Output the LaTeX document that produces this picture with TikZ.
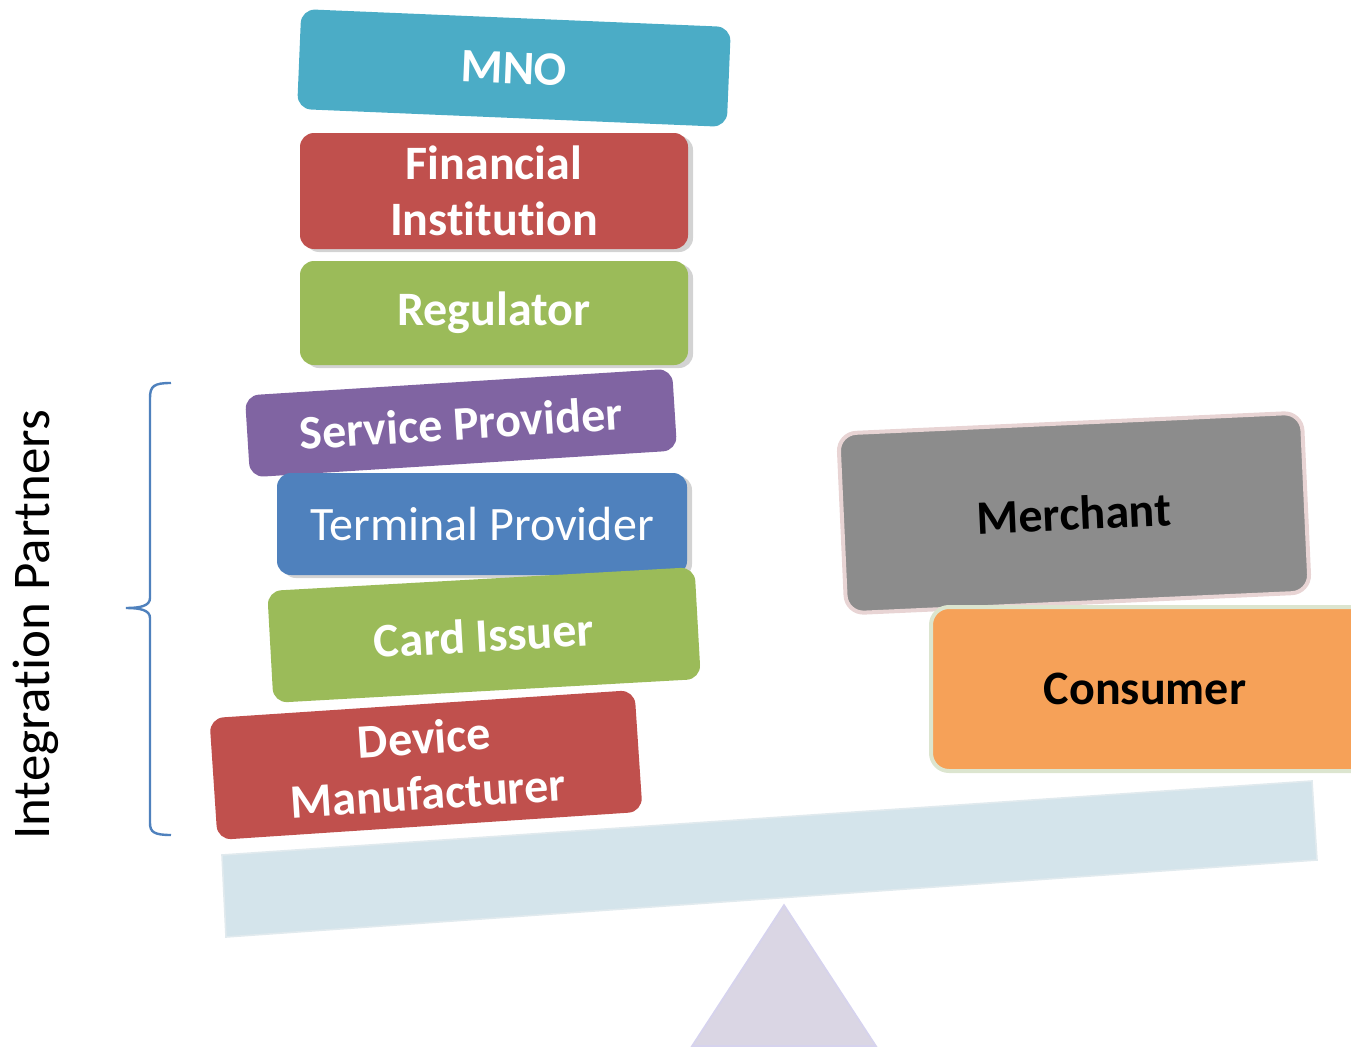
\documentclass[tikz,border=0pt]{standalone}
\usepackage{fontspec}
\setmainfont{Carlito}[Ligatures=NoCommon]
\usetikzlibrary{shadows}

\definecolor{mnoblue}{HTML}{4BACC6}
\definecolor{finred}{HTML}{C0504D}
\definecolor{reggreen}{HTML}{9BBB59}
\definecolor{svcpurple}{HTML}{8064A2}
\definecolor{termblue}{HTML}{4F81BD}
\definecolor{merchgray}{HTML}{8C8C8C}
\definecolor{merchrim}{HTML}{E8D4D4}
\definecolor{consorange}{HTML}{F6A158}
\definecolor{consrim}{HTML}{DCE5CF}
\definecolor{beamblue}{HTML}{D4E4EB}
\definecolor{pivotlilac}{HTML}{DAD6E4}

\begin{document}
\begin{tikzpicture}[x=0.5pt, y=-0.5pt]
\tikzset{partner/.style = {rectangle, rounded corners=7pt, text=white, align=center,
                           font=\fontsize{24}{28}\selectfont\bfseries, inner sep=2pt}}
\tikzset{lifted/.style = {drop shadow={shadow xshift=2.5pt, shadow yshift=-1.5pt, opacity=.35}}}

   \useasboundingbox (0,0) rectangle (1351,1049);
   \clip (0,0) rectangle (1351,1049);

   % stack of partners on the left
   \node[partner, fill=mnoblue, minimum width=215pt, minimum height=50pt, rotate=-2.4]
        (mno) at (514,68) {MNO};
   \node[partner, lifted, fill=finred, minimum width=194pt, minimum height=58pt]
        (fin) at (494,191) {Financial\\Institution};
   \node[partner, lifted, fill=reggreen, minimum width=194pt, minimum height=52pt]
        (reg) at (494,313) {Regulator};
   \node[partner, fill=svcpurple, minimum width=214pt, minimum height=41pt, rotate=3.6]
        (svc) at (461,423) {Service Provider};
   \node[partner, lifted, fill=termblue, minimum width=205pt, minimum height=51pt,
         font=\fontsize{24}{28}\selectfont]
        (term) at (482,524) {Terminal Provider};
   \node[partner, fill=reggreen, minimum width=214pt, minimum height=56pt, rotate=3.2]
        (card) at (484,635) {Card Issuer};
   \node[partner, fill=finred, minimum width=213pt, minimum height=61pt, rotate=3.8]
        (dev) at (426,765) {Device\\Manufacturer};

   % right hand side
   \node[partner, fill=merchgray, draw=merchrim, line width=2pt, text=black, rounded corners=9pt,
         minimum width=232pt, minimum height=90pt, rotate=2.6]
        (merch) at (1074,513) {Merchant};
   \node[partner, fill=consorange, draw=consrim, line width=2pt, text=black, rounded corners=9pt,
         minimum width=226pt, minimum height=82pt, anchor=west]
        (cons) at (929,689) {};
   \node[font=\fontsize{24}{28}\selectfont\bfseries] (conslabel) at (1145,689) {Consumer};

   % seesaw
   \draw[beamblue!92!gray!60, fill=beamblue, line width=.8pt]
        (222,855) -- (1312,781) -- (1317,860) -- (226,937) -- cycle;
   \draw[pivotlilac!90!blue!70, fill=pivotlilac, line width=.8pt]
        (784,905) -- (876,1046) -- (692,1046) -- cycle;

   % brace and caption
   \draw[termblue, line width=1.2pt]
        (171,383) .. controls (154,383) and (150,386) .. (150,398) -- (150,598)
        .. controls (150,606) and (140,608) .. (126,608)
        .. controls (140,608) and (150,610) .. (150,618) -- (150,823)
        .. controls (150,832) and (154,835) .. (171,835);
   \node[rotate=90, font=\fontsize{26.5}{31}\selectfont] (caption) at (36,625) {Integration Partners};

\end{tikzpicture}
\end{document}
